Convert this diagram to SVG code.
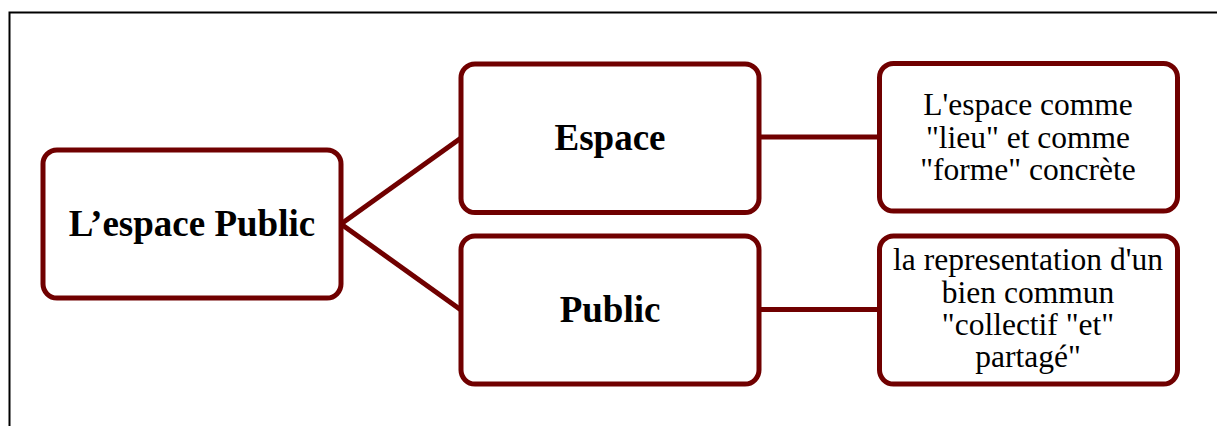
<svg xmlns="http://www.w3.org/2000/svg" width="1217" height="426" viewBox="0 0 1217 426">
<style>
.box{fill:#fff;stroke:#700000;stroke-width:5}
.con{fill:none;stroke:#700000;stroke-width:5}
.b{font-family:"Liberation Serif",serif;font-weight:bold;font-size:37px;fill:#000;text-anchor:middle}
.r{font-family:"Liberation Serif",serif;font-size:31.5px;fill:#000;text-anchor:middle}
</style>
<rect width="1217" height="426" fill="#fff"/>
<path d="M9.5,426 V12.5 H1217" fill="none" stroke="#000" stroke-width="2"/>
<g id="connectors">
<path class="con" d="M341,224 L461,138"/>
<path class="con" d="M341,224 L461,310"/>
<path class="con" d="M759,137 H880"/>
<path class="con" d="M759,309.5 H880"/>
</g>
<g id="node-main">
<rect class="box" x="43" y="150" width="298" height="148" rx="14"/>
<text class="b" x="192" y="236">L’espace Public</text>
</g>
<g id="node-espace">
<rect class="box" x="461" y="64" width="298" height="148.5" rx="14"/>
<text class="b" x="610" y="150">Espace</text>
</g>
<g id="node-public">
<rect class="box" x="461" y="236" width="298" height="148" rx="14"/>
<text class="b" x="610" y="322">Public</text>
</g>
<g id="node-espace-desc">
<rect class="box" x="879.5" y="63.5" width="298" height="147.5" rx="14"/>
<text class="r" x="1028" y="115">L'espace comme</text>
<text class="r" x="1028" y="147.5">"lieu" et comme</text>
<text class="r" x="1028" y="180">"forme" concrète</text>
</g>
<g id="node-public-desc">
<rect class="box" x="879.5" y="236" width="298" height="148" rx="14"/>
<text class="r" x="1028" y="270">la representation d'un</text>
<text class="r" x="1028" y="302.5">bien commun</text>
<text class="r" x="1028" y="335">"collectif "et"</text>
<text class="r" x="1028" y="367">partagé"</text>
</g>
</svg>
